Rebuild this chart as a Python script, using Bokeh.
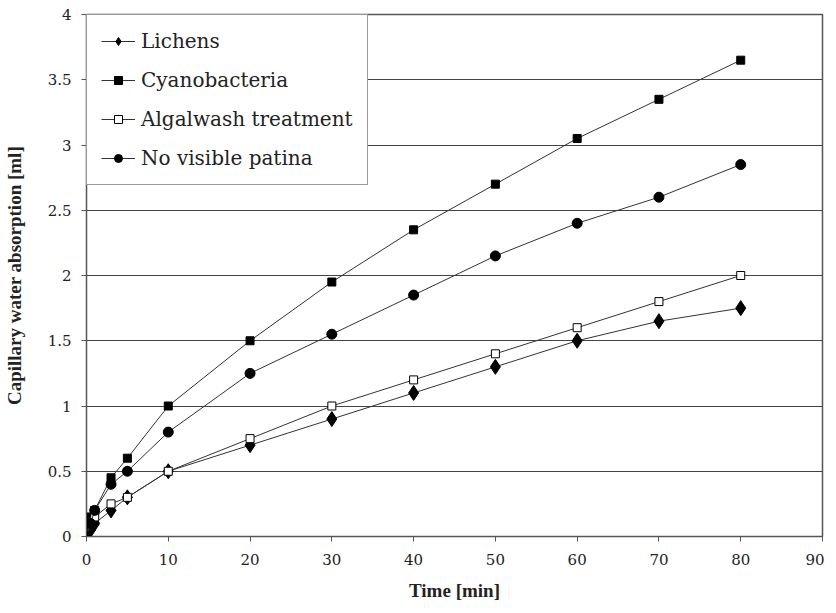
from bokeh.plotting import figure
from bokeh.models import Legend, LegendItem, FixedTicker, Range1d
from bokeh.embed import file_html
from bokeh.resources import INLINE

time_min = [0, 0.5, 1, 3, 5, 10, 20, 30, 40, 50, 60, 70, 80]
lichens = [0, 0.05, 0.1, 0.2, 0.3, 0.5, 0.7, 0.9, 1.1, 1.3, 1.5, 1.65, 1.75]
cyanobacteria = [0, 0.15, 0.2, 0.45, 0.6, 1.0, 1.5, 1.95, 2.35, 2.7, 3.05, 3.35, 3.65]
algalwash = [0, 0.1, 0.15, 0.25, 0.3, 0.5, 0.75, 1.0, 1.2, 1.4, 1.6, 1.8, 2.0]
no_patina = [0, 0.1, 0.2, 0.4, 0.5, 0.8, 1.25, 1.55, 1.85, 2.15, 2.4, 2.6, 2.85]
x_ticks = [0, 10, 20, 30, 40, 50, 60, 70, 80, 90]
y_ticks = [0, 0.5, 1, 1.5, 2, 2.5, 3, 3.5, 4]

SERIF = "DejaVu Serif"
SERIF_BOLD = "Liberation Serif"

p = figure(output_backend="svg", toolbar_location=None,
           x_range=Range1d(0, 90), y_range=Range1d(0, 4),
           min_border_left=82, min_border_right=2, min_border_top=14, min_border_bottom=4)
p.frame_width = 736
p.frame_height = 522

p.outline_line_color = "#555555"
p.outline_line_width = 1.5
p.xgrid.grid_line_color = None
p.ygrid.grid_line_color = "#444444"
p.ygrid.grid_line_width = 1
p.ygrid.ticker = FixedTicker(ticks=y_ticks)

p.xaxis.ticker = FixedTicker(ticks=x_ticks)
p.yaxis.ticker = FixedTicker(ticks=y_ticks)
p.xaxis.minor_tick_line_color = None
p.yaxis.minor_tick_line_color = None
p.yaxis.major_label_overrides = {0: "0", 1: "1", 2: "2", 3: "3", 4: "4"}
for ax in (p.xaxis[0], p.yaxis[0]):
    ax.axis_line_color = "#555555"
    ax.major_tick_line_color = "#555555"
    ax.major_tick_out = 5
    ax.major_tick_in = 0
    ax.major_label_text_font = SERIF
    ax.major_label_text_font_size = "15px"
    ax.major_label_text_color = "#222222"
    ax.axis_label_text_font = SERIF_BOLD
    ax.axis_label_text_font_size = "19px"
    ax.axis_label_text_font_style = "bold"
    ax.axis_label_text_color = "#222222"
p.xaxis.axis_label = "Time [min]"
p.yaxis.axis_label = "Capillary water absorption [ml]"
p.xaxis.major_label_standoff = 12
p.xaxis.axis_label_standoff = 12
p.yaxis.major_label_standoff = 10
p.yaxis.axis_label_standoff = 20

lc = "#333333"
l1 = p.line(time_min, lichens, line_color=lc, line_width=1)
m1 = p.scatter(time_min, lichens, marker="diamond", size=15,
               fill_color="black", line_color="black")
l2 = p.line(time_min, cyanobacteria, line_color=lc, line_width=1)
m2 = p.scatter(time_min, cyanobacteria, marker="square", size=8, fill_color="black", line_color="black")
l3 = p.line(time_min, algalwash, line_color=lc, line_width=1)
m3 = p.scatter(time_min, algalwash, marker="square", size=8, fill_color="white", line_color="black")
l4 = p.line(time_min, no_patina, line_color=lc, line_width=1)
m4 = p.scatter(time_min, no_patina, marker="circle", size=10, fill_color="black", line_color="black")

legend = Legend(items=[
    LegendItem(label="Lichens", renderers=[l1, m1]),
    LegendItem(label="Cyanobacteria", renderers=[l2, m2]),
    LegendItem(label="Algalwash treatment", renderers=[l3, m3]),
    LegendItem(label="No visible patina", renderers=[l4, m4]),
], location="top_left")
legend.margin = 0
legend.padding = 14
legend.spacing = 15
legend.border_line_color = "#333333"
legend.border_line_width = 1.5
legend.label_text_font = SERIF
legend.label_text_font_size = "20px"
legend.label_text_color = "#222222"
legend.glyph_width = 34
legend.glyph_height = 20
legend.label_height = 20
legend.label_standoff = 6
legend.background_fill_alpha = 1
p.add_layout(legend)

open("out.html", "w").write(file_html(p, INLINE))
